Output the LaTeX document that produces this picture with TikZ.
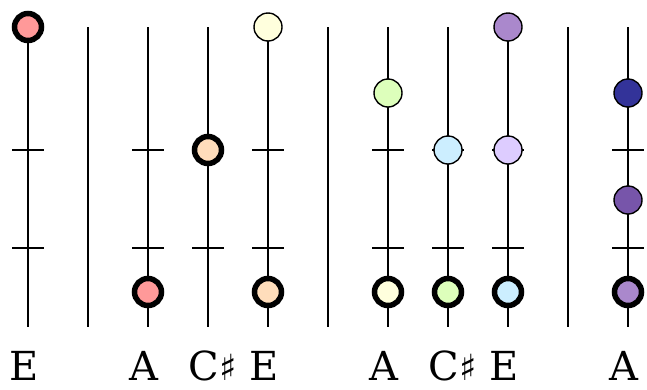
\documentclass[tikz,border=0pt]{standalone}
\usepackage{fontspec}
\setmainfont{DejaVu Serif}
\newfontfamily\symfam{DejaVu Sans}
\definecolor{csalmon}{HTML}{FF9999}
\definecolor{cpeach}{HTML}{FFDDBB}
\definecolor{cyellow}{HTML}{FFFFDD}
\definecolor{cgreen}{HTML}{DDFFBB}
\definecolor{cblue}{HTML}{CCEEFF}
\definecolor{clavender}{HTML}{DDCCFF}
\definecolor{cmpurple}{HTML}{AA88CC}
\definecolor{cdblue}{HTML}{333399}
\definecolor{cpurple}{HTML}{7755AA}
\newcommand{\shp}{{\symfam\fontsize{36}{44}\selectfont ♯}}
\begin{document}
\begin{tikzpicture}[x=1pt,y=-1pt,
  string/.style={line width=2pt},
  fretline/.style={line width=2pt},
  dotthin/.style={circle,draw,line width=1.4pt,minimum size=28pt,inner sep=0pt},
  dotthick/.style={circle,draw,line width=5.5pt,minimum size=27pt,inner sep=0pt},
  lab/.style={anchor=base,font=\fontsize{40}{48}\selectfont,inner sep=0pt}]
\useasboundingbox (0,0) rectangle (647,389);
% strings with frets
\foreach \i/\x in {1/28,2/148,3/208,4/268,5/388,6/448,7/508,8/628}{
  \coordinate (top\i) at (\x,27);
  \coordinate (bot\i) at (\x,327);
  \draw[string] (top\i) -- (bot\i);
  \foreach \y/\j in {150/a,248/b}{
    \coordinate (fl\i\j) at (\x-16,\y);
    \coordinate (fr\i\j) at (\x+16,\y);
    \draw[fretline] (fl\i\j) -- (fr\i\j);
  }
}
% separators
\foreach \i/\x in {1/88,2/328,3/568}{
  \coordinate (stop\i) at (\x,27);
  \coordinate (sbot\i) at (\x,327);
  \draw[string] (stop\i) -- (sbot\i);
}
% dots
\node[dotthick,fill=csalmon] (d1) at (28,27) {};
\node[dotthick,fill=csalmon] (d2) at (148,292) {};
\node[dotthick,fill=cpeach] (d3) at (208,150) {};
\node[dotthin,fill=cyellow] (d4a) at (268,27) {};
\node[dotthick,fill=cpeach] (d4b) at (268,292) {};
\node[dotthin,fill=cgreen] (d5a) at (388,93) {};
\node[dotthick,fill=cyellow] (d5b) at (388,292) {};
\node[dotthin,fill=cblue] (d6a) at (448,150) {};
\node[dotthick,fill=cgreen] (d6b) at (448,292) {};
\node[dotthin,fill=cmpurple] (d7a) at (508,27) {};
\node[dotthin,fill=clavender] (d7b) at (508,150) {};
\node[dotthick,fill=cblue] (d7c) at (508,292) {};
\node[dotthin,fill=cdblue] (d8a) at (628,93) {};
\node[dotthin,fill=cpurple] (d8b) at (628,200) {};
\node[dotthick,fill=cmpurple] (d8c) at (628,292) {};
% labels
\node[lab] (l1) at (24,380) {E};
\node[lab] (l2) at (144,380) {A};
\node[lab] (l3) at (213,380) {C\shp};
\node[lab] (l4) at (264,380) {E};
\node[lab] (l5) at (384,380) {A};
\node[lab] (l6) at (453,380) {C\shp};
\node[lab] (l7) at (504,380) {E};
\node[lab] (l8) at (624,380) {A};
\end{tikzpicture}
\end{document}
